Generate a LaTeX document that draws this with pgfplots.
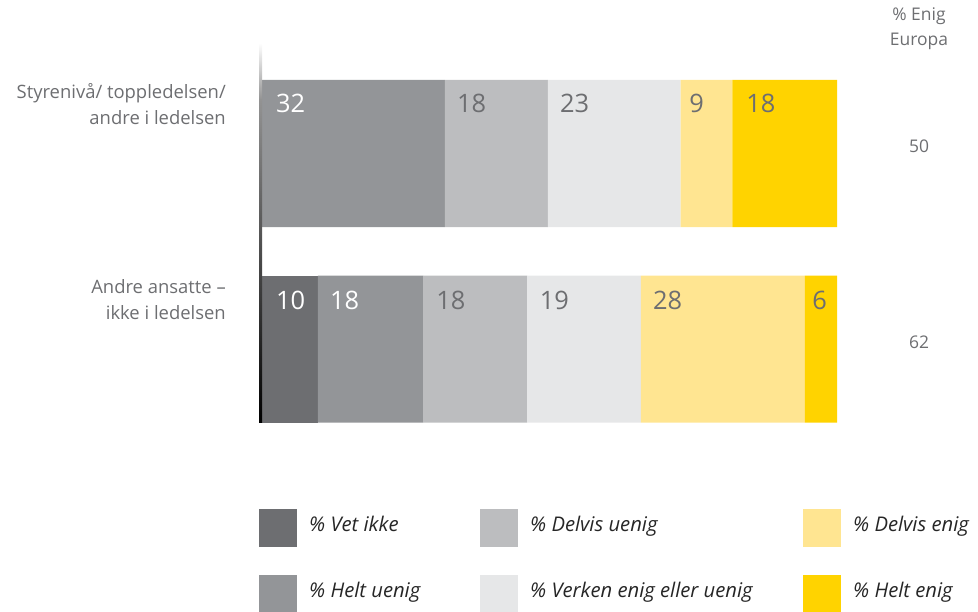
\documentclass[border=0pt]{standalone}
\usepackage{fontspec}
\setmainfont{Open Sans}
\usepackage{pgfplots}
\pgfplotsset{compat=1.18}
\definecolor{cVet}{HTML}{6D6E71}
\definecolor{cHu}{HTML}{939598}
\definecolor{cDu}{HTML}{BCBDBF}
\definecolor{cVe}{HTML}{E6E7E8}
\definecolor{cDe}{HTML}{FFE591}
\definecolor{cHe}{HTML}{FFD300}
\definecolor{tgrey}{HTML}{6D6E71}
\begin{document}
\begin{tikzpicture}
\begin{axis}[name=ax,
  scale only axis, width=978bp, height=612bp,
  xmin=-45.565, xmax=124.522, ymin=0, ymax=612, y dir=reverse,
  hide axis, clip=false,
  xbar stacked, reverse stacked plots=false, bar width=147,
  legend image code/.code={\fill[#1] (0bp,-19bp) rectangle (38bp,19bp);},
  legend style={at={(axis cs:-0.522,509)}, anchor=north west, draw=none, fill=none,
    inner sep=0pt, row sep=28bp, column sep=0pt,
    nodes={inner sep=0pt, anchor=west, yshift=4bp, font=\fontsize{20.3}{23}\selectfont\itshape, text=black!85}},
  legend cell align=left,
  legend columns=3,
]
\addplot[fill=cVet, draw=none, forget plot] coordinates {(0,153.5) (9.7,349)};
\addplot[fill=cHu, draw=none, forget plot] coordinates {(31.8,153.5) (18.3,349)};
\addplot[fill=cDu, draw=none, forget plot] coordinates {(17.9,153.5) (18.1,349)};
\addplot[fill=cVe, draw=none, forget plot] coordinates {(23.1,153.5) (19.8,349)};
\addplot[fill=cDe, draw=none, forget plot] coordinates {(9.0,153.5) (28.5,349)};
\addplot[fill=cHe, draw=none, forget plot] coordinates {(18.2,153.5) (5.6,349)};

\addlegendimage{fill=cVet, draw=none}
\addlegendentry{\makebox[183bp][l]{\hspace{12bp}\% Vet ikke}}
\addlegendimage{fill=cDu, draw=none}
\addlegendentry{\makebox[285bp][l]{\hspace{12bp}\% Delvis uenig}}
\addlegendimage{fill=cDe, draw=none}
\addlegendentry{\makebox[130bp][l]{\hspace{12bp}\% Delvis enig}}
\addlegendimage{fill=cHu, draw=none}
\addlegendentry{\makebox[183bp][l]{\hspace{12bp}\% Helt uenig}}
\addlegendimage{fill=cVe, draw=none}
\addlegendentry{\makebox[285bp][l]{\hspace{12bp}\% Verken enig eller uenig}}
\addlegendimage{fill=cHe, draw=none}
\addlegendentry{\makebox[130bp][l]{\hspace{12bp}\% Helt enig}}

% axis line with gradient
\shade[top color=white, bottom color=gray!85] (axis cs:-0.52,43) rectangle (axis cs:0,100);
\shade[top color=gray!85, bottom color=black] (axis cs:-0.52,100) rectangle (axis cs:0,422.5);

% bar labels
\node[anchor=west, inner sep=0pt, font=\fontsize{25.5}{28}\selectfont, text=white] at (axis cs:2.43,103) {32};
\node[anchor=west, inner sep=0pt, font=\fontsize{25.5}{28}\selectfont, text=tgrey] at (axis cs:33.9,103) {18};
\node[anchor=west, inner sep=0pt, font=\fontsize{25.5}{28}\selectfont, text=tgrey] at (axis cs:51.8,103) {23};
\node[anchor=west, inner sep=0pt, font=\fontsize{25.5}{28}\selectfont, text=tgrey] at (axis cs:74.3,103) {9};
\node[anchor=west, inner sep=0pt, font=\fontsize{25.5}{28}\selectfont, text=tgrey] at (axis cs:84.2,103) {18};
\node[anchor=west, inner sep=0pt, font=\fontsize{25.5}{28}\selectfont, text=white] at (axis cs:2.43,300) {10};
\node[anchor=west, inner sep=0pt, font=\fontsize{25.5}{28}\selectfont, text=white] at (axis cs:11.8,300) {18};
\node[anchor=west, inner sep=0pt, font=\fontsize{25.5}{28}\selectfont, text=tgrey] at (axis cs:30.3,300) {18};
\node[anchor=west, inner sep=0pt, font=\fontsize{25.5}{28}\selectfont, text=tgrey] at (axis cs:48.3,300) {19};
\node[anchor=west, inner sep=0pt, font=\fontsize{25.5}{28}\selectfont, text=tgrey] at (axis cs:68.0,300) {28};
\node[anchor=west, inner sep=0pt, font=\fontsize{25.5}{28}\selectfont, text=tgrey] at (axis cs:95.7,300) {6};

% category labels
\node[anchor=east, inner sep=0pt, align=right, text=tgrey, font=\fontsize{18.5}{26}\selectfont] at (axis cs:-6.26,104) {Styrenivå/ toppledelsen/\\andre i ledelsen};
\node[anchor=east, inner sep=0pt, align=right, text=tgrey, font=\fontsize{18.5}{26}\selectfont] at (axis cs:-6.26,300) {Andre ansatte –\\ikke i ledelsen};

% right column
\node[inner sep=0pt, align=center, text=tgrey, font=\fontsize{17.5}{25}\selectfont] at (axis cs:114.26,29) {\% Enig\\Europa};
\node[inner sep=0pt, text=tgrey, font=\fontsize{17.5}{25}\selectfont] at (axis cs:114.26,146) {50};
\node[inner sep=0pt, text=tgrey, font=\fontsize{17.5}{25}\selectfont] at (axis cs:114.26,342) {62};
\end{axis}
\pgfresetboundingbox
\path (ax.south west) rectangle (ax.north east);
\end{tikzpicture}
\end{document}
